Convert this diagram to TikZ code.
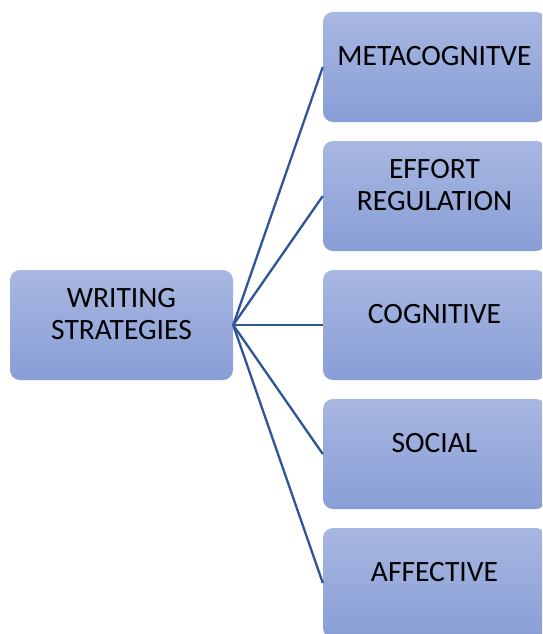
\documentclass[tikz,border=0pt]{standalone}
\usepackage{fontspec}
\setmainfont{Carlito}
\usepackage{xcolor}
\usetikzlibrary{calc}
\definecolor{boxtop}{RGB}{168,183,225}
\definecolor{boxbot}{RGB}{136,158,214}
\definecolor{linkblue}{RGB}{47,85,151}
\tikzset{
 box/.style={rounded corners=10, minimum width=223, minimum height=110, inner sep=0,
  top color=boxtop, bottom color=boxbot, draw=none},
 boxtext/.style={align=center, font=\fontsize{29.5}{32}\selectfont, text=black},
 link/.style={linkblue, line width=2.3}
}

\begin{document}
\begin{tikzpicture} [x=1pt, y=-1pt]
\clip (0,0) rectangle (542,634);
\fill[white] (0,0) rectangle (542,634);
\node[box, label={[boxtext, yshift=11]center:WRITING\\STRATEGIES}] (ws) at (121.5,325) {};
\foreach \name/\txt [count=\i from 0] in {meta/METACOGNITVE, effort/{EFFORT\\REGULATION},
  cog/COGNITIVE, soc/SOCIAL, aff/AFFECTIVE} {
 \node[box, label={[boxtext, yshift=11]center:\txt}] (\name) at (434.5,67+129*\i) {};
 \draw[link] (ws.east) -- (\name.west);
}
\end{tikzpicture}
\end{document}
